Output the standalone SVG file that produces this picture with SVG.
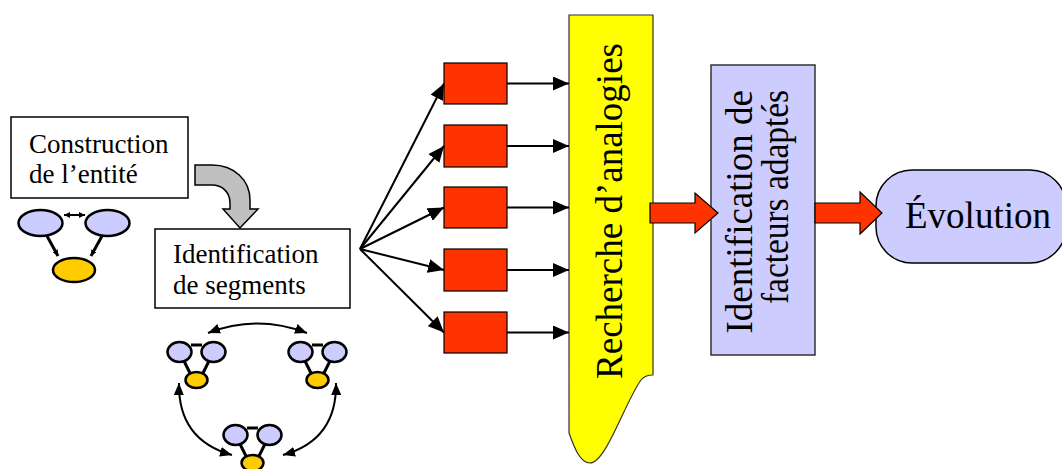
<svg xmlns="http://www.w3.org/2000/svg" width="1062" height="469" viewBox="0 0 1062 469">
<defs>
<style>
.box{fill:#fff;stroke:#000;stroke-width:1.5}
.red{fill:#ff3300;stroke:#000;stroke-width:1.2}
.lav{fill:#ccccff;stroke:#000;stroke-width:2.5}
.yel{fill:#ffcc00;stroke:#000;stroke-width:2.5}
.edge{stroke:#000;stroke-width:2;fill:none}
.thick{stroke:#000;stroke-width:3;fill:none}
</style>
<marker id="ah" viewBox="0 0 16 14" refX="16" refY="7" markerWidth="16" markerHeight="14" markerUnits="userSpaceOnUse" orient="auto">
<path d="M0,0 L16,7 L0,14 Z" fill="#000"/>
</marker>
<marker id="ahs" viewBox="0 0 12 10" refX="12" refY="5" markerWidth="12" markerHeight="10" markerUnits="userSpaceOnUse" orient="auto-start-reverse">
<path d="M0,0 L12,5 L0,10 Z" fill="#000"/>
</marker>
<marker id="aht" viewBox="0 0 6 6" refX="6" refY="3" markerWidth="6" markerHeight="6" markerUnits="userSpaceOnUse" orient="auto-start-reverse">
<path d="M0,0 L6,3 L0,6 Z" fill="#000"/>
</marker>
</defs>

<g id="construction">
<rect class="box" x="11" y="117" width="177" height="81"/>
<text x="29" y="153" font-size="27" font-family="Liberation Serif, serif">Construction</text>
<text x="29" y="183" font-size="27" font-family="Liberation Serif, serif">de l’entité</text>
</g>

<g id="entity-graph">
<line class="thick" x1="47" y1="236" x2="58" y2="256" marker-end="url(#aht)"/>
<line class="thick" x1="102" y1="236" x2="91" y2="256" marker-end="url(#aht)"/>
<line class="edge" x1="64" y1="215" x2="85" y2="215" stroke-width="2.5" marker-start="url(#aht)" marker-end="url(#aht)"/>
<ellipse class="lav" cx="40.5" cy="223" rx="22" ry="13"/>
<ellipse class="lav" cx="107.5" cy="223" rx="22" ry="13"/>
<ellipse class="yel" cx="74" cy="270" rx="21" ry="12"/>
</g>

<g id="turn-arrow">
<path d="M195,165 H212 C234,165 250,180 250,200 V209 H258 L240,228 L223,209 H230 V203 C230,192 222,185 212,185 H195 Z" fill="#c0c0c0" stroke="#000" stroke-width="1.5"/>
</g>

<g id="segments">
<rect class="box" x="155" y="229" width="195" height="79"/>
<text x="173" y="263" font-size="27" font-family="Liberation Serif, serif">Identification</text>
<text x="173" y="294" font-size="27" font-family="Liberation Serif, serif">de segments</text>
</g>

<g id="cluster1">
<line class="thick" x1="191" y1="345" x2="202" y2="345"/>
<line class="thick" x1="184" y1="361" x2="190" y2="373"/>
<line class="thick" x1="209" y1="361" x2="203" y2="373"/>
<ellipse class="lav" cx="179.5" cy="352" rx="12" ry="10"/>
<ellipse class="lav" cx="213.5" cy="352" rx="12" ry="10"/>
<ellipse class="yel" cx="196.5" cy="380" rx="11" ry="8"/>
</g>
<g id="cluster2">
<line class="thick" x1="312" y1="345" x2="323" y2="345"/>
<line class="thick" x1="305" y1="361" x2="311" y2="373"/>
<line class="thick" x1="330" y1="361" x2="324" y2="373"/>
<ellipse class="lav" cx="300.5" cy="352" rx="12" ry="10"/>
<ellipse class="lav" cx="334.5" cy="352" rx="12" ry="10"/>
<ellipse class="yel" cx="317.5" cy="380" rx="11" ry="8"/>
</g>
<g id="cluster3">
<line class="thick" x1="247" y1="428" x2="258" y2="428"/>
<line class="thick" x1="240" y1="444" x2="246" y2="456"/>
<line class="thick" x1="265" y1="444" x2="259" y2="456"/>
<ellipse class="lav" cx="235.5" cy="435" rx="12" ry="10"/>
<ellipse class="lav" cx="269.5" cy="435" rx="12" ry="10"/>
<ellipse class="yel" cx="252.5" cy="463" rx="11" ry="8"/>
</g>

<g id="recherche">
<path d="M569,15 H653 V375 C648,375 644,376 641,380 C625,402 606,463 590,463 C580,463 574,447 569,433 Z" fill="#ffff00" stroke="#333" stroke-width="1.2"/>
<text font-size="37" font-family="Liberation Serif, serif" text-anchor="middle" transform="translate(622,211) rotate(-90)">Recherche d’analogies</text>
</g>

<g id="facteurs">
<rect x="711" y="65" width="104" height="290" fill="#ccccff" stroke="#333" stroke-width="1.5"/>
<text font-size="37" font-family="Liberation Serif, serif" text-anchor="end" transform="translate(752,90) rotate(-90)">Identification de</text>
<text font-size="37" font-family="Liberation Serif, serif" text-anchor="end" textLength="214" lengthAdjust="spacingAndGlyphs" transform="translate(788,90) rotate(-90)">facteurs adaptés</text>
</g>

<g id="evolution">
<rect x="876" y="170" width="190" height="93" rx="36" ry="36" fill="#ccccff" stroke="#000" stroke-width="1.5"/>
<text x="905" y="228" font-size="37" font-family="Liberation Serif, serif">Évolution</text>
</g>

<g id="b1"><rect class="red" x="444" y="63" width="63" height="41"/></g>
<g id="b2"><rect class="red" x="444" y="125" width="63" height="42"/></g>
<g id="b3"><rect class="red" x="444" y="187" width="63" height="41"/></g>
<g id="b4"><rect class="red" x="444" y="249" width="63" height="42"/></g>
<g id="b5"><rect class="red" x="444" y="312" width="63" height="41"/></g>

<g id="connectors">
<path class="edge" d="M360,249 L444,83.5" marker-end="url(#ah)"/>
<path class="edge" d="M360,249 L444,146" marker-end="url(#ah)"/>
<path class="edge" d="M360,249 L444,207.5" marker-end="url(#ah)"/>
<path class="edge" d="M360,249 L444,270" marker-end="url(#ah)"/>
<path class="edge" d="M360,249 L444,332.5" marker-end="url(#ah)"/>
<path class="edge" d="M507,83.5 L569,83.5" marker-end="url(#ah)"/>
<path class="edge" d="M507,146 L569,146" marker-end="url(#ah)"/>
<path class="edge" d="M507,207.5 L569,207.5" marker-end="url(#ah)"/>
<path class="edge" d="M507,270 L569,270" marker-end="url(#ah)"/>
<path class="edge" d="M507,332.5 L569,332.5" marker-end="url(#ah)"/>
<path class="edge" stroke-width="1.5" d="M208,333 Q257,314 307,333" marker-start="url(#ahs)" marker-end="url(#ahs)"/>
<path class="edge" stroke-width="1.5" d="M179,383 Q178,440 232,455" marker-start="url(#ahs)" marker-end="url(#ahs)"/>
<path class="edge" stroke-width="1.5" d="M336,383 Q337,440 283,455" marker-start="url(#ahs)" marker-end="url(#ahs)"/>
<polygon class="red" points="650,203 695,203 695,193 718,213 695,233 695,223 650,223"/>
<polygon class="red" points="815,203 860,203 860,192 882,213 860,234 860,223 815,223"/>
</g>
</svg>
